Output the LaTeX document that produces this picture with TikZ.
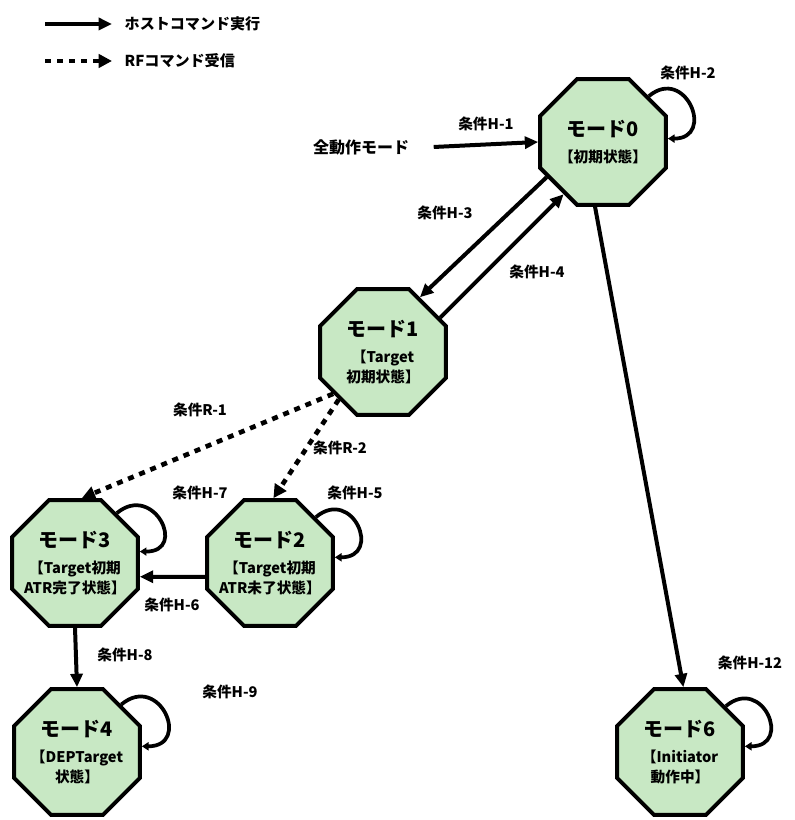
\documentclass[tikz,border=0pt]{standalone}
\usepackage{fontspec}
\setmainfont{Noto Sans CJK JP}
\usetikzlibrary{shapes.geometric,arrows.meta}
\definecolor{modegreen}{RGB}{200,232,196}

\begin{document}
\begin{tikzpicture}[x=0.75pt,y=0.75pt,font=\bfseries,
  mode/.style={regular polygon,regular polygon sides=8,draw=black,line width=3pt,fill=modegreen,minimum size=102pt,inner sep=-12pt,align=center,font=\fontsize{11}{15.5}\selectfont\bfseries},
  host/.style={line width=3pt,-{Triangle[length=10pt,width=9pt]}},
  rf/.style={line width=3.5pt,dash pattern=on 4.5pt off 4.5pt,-{Triangle[length=10pt,width=10pt]}},
  selfloop/.style={line width=2.8pt,-{Triangle[length=5pt,width=6pt]}},
  cond/.style={font=\fontsize{11}{12}\selectfont\bfseries},
  legend/.style={anchor=west,font=\fontsize{11.3}{13}\selectfont\bfseries}]
\useasboundingbox (0,0) rectangle (794,820);

% legend
\coordinate (l1a) at (45,796); \coordinate (l1b) at (112,796);
\coordinate (l2a) at (45,759); \coordinate (l2b) at (112,759);
\draw[host] (l1a) -- (l1b);
\draw[rf] (l2a) -- (l2b);
\node[legend] (l1t) at (120,796) {ホストコマンド実行};
\node[legend] (l2t) at (120,759) {RFコマンド受信};

% modes
\node[mode] (m0) at (603,678) {{\fontsize{15}{17}\selectfont モード0}\\[4pt]【初期状態】};
\node[mode] (m1) at (383,468) {{\fontsize{15}{17}\selectfont モード1}\\[4pt]【Target\\初期状態】};
\node[mode] (m2) at (270,257) {{\fontsize{15}{17}\selectfont モード2}\\[4pt]【Target初期\\ATR未了状態】};
\node[mode] (m3) at (75,257) {{\fontsize{15}{17}\selectfont モード3}\\[4pt]【Target初期\\ATR完了状態】};
\node[mode] (m4) at (77,68) {{\fontsize{15}{17}\selectfont モード4}\\[4pt]【DEPTarget\\状態】};
\node[mode] (m6) at (680,68) {{\fontsize{15}{17}\selectfont モード6}\\[4pt]【Initiator\\動作中】};
\node[font=\fontsize{12}{14}\selectfont\bfseries] (start) at (361,673) {全動作モード};

% transitions
\draw[host] ([xshift=15pt]start.east) -- (m0.west) node[midway,above=5pt,cond] (h1) {条件H-1};
\draw[host] (m0.212) -- (m1.56);
\draw[host] (m1.31) -- (m0.233);
\draw[host] (m0.263) -- (m6.87);
\draw[rf] (m1.220) -- (m3.84);
\draw[rf] (m1.227) -- (m2.87);
\draw[host] (m2.192) -- (m3.348);
\draw[host] (m3.south) -- (m4.north);

% loops
\draw[selfloop] (m0.45) .. controls +(40:48) and +(0:48) .. (m0.3);
\draw[selfloop] (m2.45) .. controls +(40:48) and +(0:48) .. (m2.5);
\draw[selfloop] (m3.50) .. controls +(40:48) and +(0:48) .. (m3.10);
\draw[selfloop] (m4.47) .. controls +(40:50) and +(0:50) .. (m4.5);
\draw[selfloop] (m6.45) .. controls +(40:48) and +(0:48) .. (m6.5);

% conditions
\node[cond] (h2) at (688,747) {条件H-2};
\node[cond] (h3) at (445,607) {条件H-3};
\node[cond] (h4) at (537,548) {条件H-4};
\node[cond] (r1) at (200,410) {条件R-1};
\node[cond] (r2) at (340,372) {条件R-2};
\node[cond] (h7) at (200,327) {条件H-7};
\node[cond] (h5) at (355,327) {条件H-5};
\node[cond] (h6) at (172,215) {条件H-6};
\node[cond] (h8) at (125,165) {条件H-8};
\node[cond] (h9) at (230,128) {条件H-9};
\node[cond] (h12) at (750,157) {条件H-12};
\end{tikzpicture}
\end{document}
